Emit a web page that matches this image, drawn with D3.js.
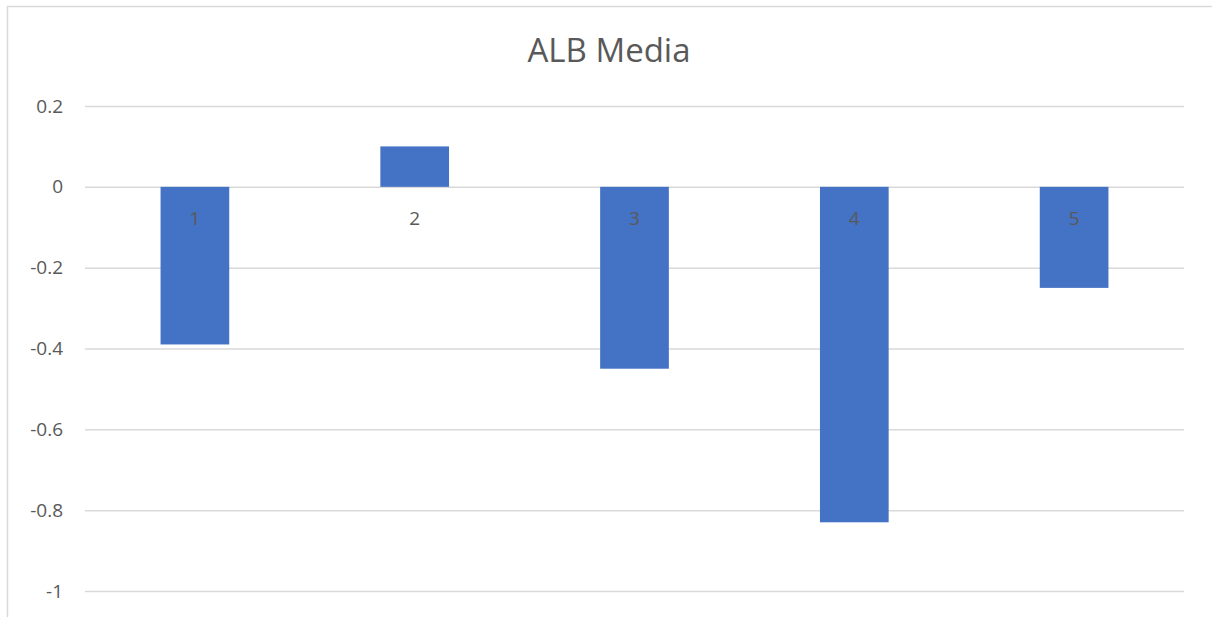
<!DOCTYPE html>
<html>
<head>
<meta charset="utf-8">
<script src="https://cdn.jsdelivr.net/npm/d3@7"></script>
<style>
  html, body { margin: 0; padding: 0; background: #fff; }
  svg { display: block; }
  text { font-family: "Open Sans", "Noto Sans", sans-serif; fill: #595959; }
</style>
</head>
<body>
<svg id="chart" width="1212" height="617"></svg>
<script>
// Chart data
const title = "ALB Media";
const categories = ["1", "2", "3", "4", "5"];
const values = [-0.39, 0.1, -0.45, -0.83, -0.25];
const yTicks = [0.2, 0, -0.2, -0.4, -0.6, -0.8, -1];

const width = 1212, height = 617;
const plot = { left: 85, right: 1184, top: 106, bottom: 591 };

const svg = d3.select("#chart");

// Outer chart frame
svg.append("rect")
  .attr("x", 7.5).attr("y", 6.5)
  .attr("width", width + 10).attr("height", height + 10)
  .attr("fill", "#fff")
  .attr("stroke", "#d9d9d9").attr("stroke-width", 1.5);

const x = d3.scaleBand()
  .domain(categories)
  .range([plot.left, plot.right])
  .paddingInner(0.6875)
  .paddingOuter(0.34375);

const y = d3.scaleLinear()
  .domain([-1, 0.2])
  .range([plot.bottom, plot.top]);

// Horizontal gridlines with value labels
const yAxis = d3.axisLeft(y)
  .tickValues(yTicks)
  .tickSize(-(plot.right - plot.left))
  .tickPadding(22)
  .tickFormat(d3.format("~g"));

const gy = svg.append("g")
  .attr("transform", `translate(${plot.left},0)`)
  .call(yAxis);
gy.select(".domain").remove();
gy.selectAll(".tick line").attr("stroke", "#d9d9d9").attr("stroke-width", 1.5);
gy.selectAll(".tick text")
  .attr("font-size", 19)
  .attr("fill", "#595959")
  .style("font-family", "'Open Sans', 'Noto Sans', sans-serif")
  .text(d => d < 0 ? "-" + Math.abs(d) : String(d));

// Bars
svg.append("g").selectAll("rect")
  .data(values)
  .join("rect")
  .attr("x", (d, i) => x(categories[i]))
  .attr("width", x.bandwidth())
  .attr("y", d => y(Math.max(0, d)))
  .attr("height", d => Math.abs(y(d) - y(0)))
  .attr("fill", "#4472c4");

// Category labels sit just under the zero line
svg.append("g").selectAll("text")
  .data(categories)
  .join("text")
  .attr("x", d => x(d) + x.bandwidth() / 2)
  .attr("y", y(0) + 38)
  .attr("text-anchor", "middle")
  .attr("font-size", 19)
  .text(d => d);

// Title
svg.append("text")
  .attr("x", 609)
  .attr("y", 62)
  .attr("text-anchor", "middle")
  .attr("font-size", 33)
  .text(title);
</script>
</body>
</html>
